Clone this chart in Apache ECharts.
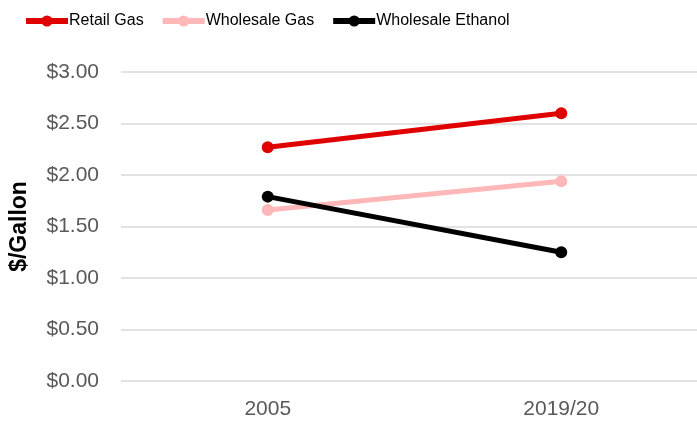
<!DOCTYPE html>
<html>
<head>
<meta charset="utf-8">
<script src="https://cdn.jsdelivr.net/npm/echarts@6/dist/echarts.min.js"></script>
<style>
    html, body { margin: 0; padding: 0; background: #fff; overflow: hidden; }
    /* plot area runs a little past the right edge in the original, so the canvas is wider than the window */
    #main { width: 708px; height: 423px; }
</style>
</head>
<body>
<div id="main"></div>
<script>
    // data
    var years = ['2005', '2019/20'];
    var retailGas = [2.27, 2.60];
    var wholesaleGas = [1.66, 1.94];
    var wholesaleEthanol = [1.79, 1.25];

    var font = 'Liberation Sans';

    function lineSeries(name, data, color) {
        return {
            name: name,
            type: 'line',
            data: data,
            symbol: 'circle',
            symbolSize: 12,
            lineStyle: { width: 5, color: color },
            itemStyle: { color: color },
            emphasis: { disabled: true }
        };
    }

    var myChart = echarts.init(document.getElementById('main'));
    var option = {
        animation: false,
        textStyle: { fontFamily: font },
        legend: {
            left: 23,
            top: 13,
            padding: 0,
            itemWidth: 42,
            itemHeight: 14,
            itemGap: 16,
            lineStyle: { width: 6 },
            textStyle: { fontFamily: font, fontSize: 16, color: '#000', padding: [0, 0, 0, -4] },
            data: ['Retail Gas', 'Wholesale Gas', 'Wholesale Ethanol']
        },
        grid: {
            left: 119,
            top: 72,
            right: 0,
            height: 309
        },
        xAxis: {
            type: 'category',
            data: years,
            boundaryGap: true,
            axisLine: { show: false },
            axisTick: { show: false },
            axisLabel: { fontFamily: font, fontSize: 21, color: '#595959', margin: 18 }
        },
        yAxis: {
            type: 'value',
            min: 0,
            max: 3,
            interval: 0.5,
            name: '$/Gallon',
            nameLocation: 'middle',
            nameGap: 90,
            nameTextStyle: { fontFamily: font, fontSize: 23, fontWeight: 'bold', color: '#000' },
            axisLine: { show: false },
            axisTick: { show: false },
            splitLine: { lineStyle: { color: '#D9D9D9', width: 1.5 } },
            axisLabel: {
                fontFamily: font,
                fontSize: 21,
                color: '#595959',
                margin: 22,
                formatter: function (v) { return '$' + v.toFixed(2); }
            }
        },
        series: [
            lineSeries('Retail Gas', retailGas, '#E00000'),
            lineSeries('Wholesale Gas', wholesaleGas, '#FFB7B7'),
            lineSeries('Wholesale Ethanol', wholesaleEthanol, '#000000')
        ]
    };
    myChart.setOption(option);
</script>
</body>
</html>
